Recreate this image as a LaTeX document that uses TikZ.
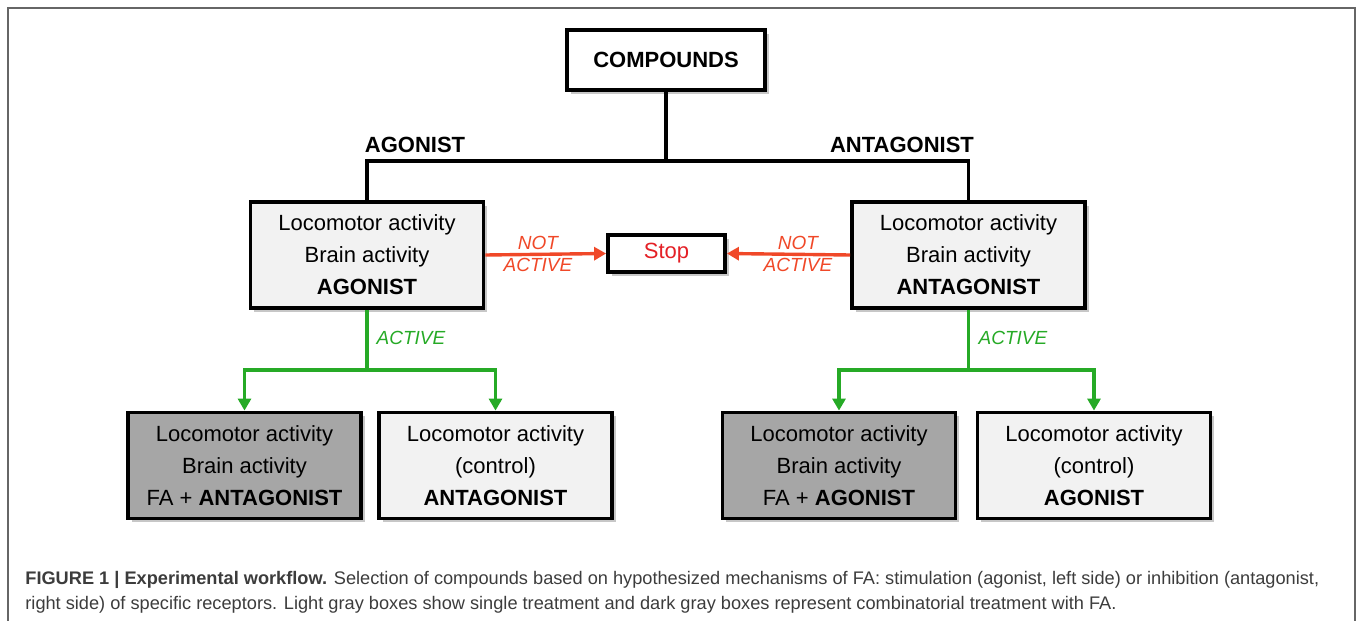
\documentclass[tikz,border=0pt]{standalone}
\usepackage{fontspec}
\setmainfont{Liberation Sans}
\usetikzlibrary{arrows.meta,shadows}
\definecolor{stopred}{RGB}{228,32,38}
\definecolor{nogored}{RGB}{240,72,40}
\definecolor{gogreen}{RGB}{38,170,38}
\definecolor{lightbox}{RGB}{242,242,242}
\definecolor{darkbox}{RGB}{166,166,166}
\definecolor{captext}{RGB}{60,60,60}
\tikzset{
  box/.style={draw=black, line width=1.9pt, align=center, inner sep=0pt,
    font=\fontsize{11}{16}\selectfont,
    drop shadow={shadow xshift=1.8pt, shadow yshift=-1.8pt, fill=black, opacity=0.22}},
  testbox/.style={box, fill=lightbox, minimum width=116.5pt, minimum height=53pt},
  combobox/.style={box, fill=darkbox, minimum width=116.5pt, minimum height=53pt},
  conn/.style={line width=1.7pt, black},
  nogo/.style={line width=1.7pt, nogored, -{Triangle[length=6pt,width=6.5pt]}},
  go/.style={line width=1.7pt, gogreen},
  goarrow/.style={go, -{Triangle[length=6pt,width=6.5pt]}},
  branch/.style={font=\bfseries\fontsize{11}{13}\selectfont},
  nogolabel/.style={text=nogored, align=center, inner sep=0pt, font=\itshape\fontsize{9.5}{11}\selectfont},
  golabel/.style={text=gogreen, inner sep=0pt, font=\itshape\fontsize{9.5}{11}\selectfont}
}
\begin{document}
\begin{tikzpicture}[x=0.5pt,y=-0.5pt]

	\useasboundingbox (0,0) rectangle (1357,621);
	\draw[black!60, line width=0.8pt] (8,640)--(8,8)--(1355,8)--(1355,640);

	\node[box, fill=white, minimum width=99pt, minimum height=30pt, font=\bfseries\fontsize{11}{13}\selectfont] (comp) at (666,60) {COMPOUNDS};

	\node[testbox] (ago) at (367,255) {Locomotor activity\\Brain activity\\\textbf{AGONIST}};
	\node[testbox] (antago) at (968.5,255) {Locomotor activity\\Brain activity\\\textbf{ANTAGONIST}};
	\node[box, fill=white, minimum width=58.5pt, minimum height=18.5pt, text=stopred] (stop) at (666.5,253.5) {Stop};

	\node[combobox] (faantago) at (244.5,465.5) {Locomotor activity\\Brain activity\\FA + \textbf{ANTAGONIST}};
	\node[testbox] (ctrlantago) at (495.5,465.5) {Locomotor activity\\(control)\\\textbf{ANTAGONIST}};
	\node[combobox] (faago) at (839,465.5) {Locomotor activity\\Brain activity\\FA + \textbf{AGONIST}};
	\node[testbox] (ctrlago) at (1094,465.5) {Locomotor activity\\(control)\\\textbf{AGONIST}};

	\node[branch] (lblago) at (415,145) {AGONIST};
	\node[branch] (lblantago) at (902,145) {ANTAGONIST};

	\coordinate (bar) at (666,161);
	\draw[conn] (comp.south) -- (bar);
	\draw[conn] (ago.north) |- (bar) -| (antago.north);

	\draw[nogo] (ago.east) -- (stop.west);
	\draw[nogo] (antago.west) -- (stop.east);
	\node[nogolabel] (nogoago) at (538,254) {NOT\\ACTIVE};
	\node[nogolabel] (nogoantago) at (798,254) {NOT\\ACTIVE};

	\coordinate (splitago) at (367,370);
	\coordinate (splitantago) at (968.5,370);
	\draw[go] (ago.south) -- (splitago);
	\draw[goarrow] (splitago) -| (faantago.north);
	\draw[goarrow] (splitago) -| (ctrlantago.north);
	\draw[go] (antago.south) -- (splitantago);
	\draw[goarrow] (splitantago) -| (faago.north);
	\draw[goarrow] (splitantago) -| (ctrlago.north);
	\node[golabel] (activeago) at (411,338) {ACTIVE};
	\node[golabel] (activeantago) at (1013,338) {ACTIVE};

	\node[anchor=west, align=left, inner sep=0pt, text=captext, font=\fontsize{9.1}{12.5}\selectfont] (caption) at (25,592.5)
		{\textbf{FIGURE 1 | Experimental workflow.} Selection of compounds based on hypothesized mechanisms of FA: stimulation (agonist, left side) or inhibition (antagonist,\\right side) of specific receptors. Light gray boxes show single treatment and dark gray boxes represent combinatorial treatment with FA.};

\end{tikzpicture}
\end{document}
